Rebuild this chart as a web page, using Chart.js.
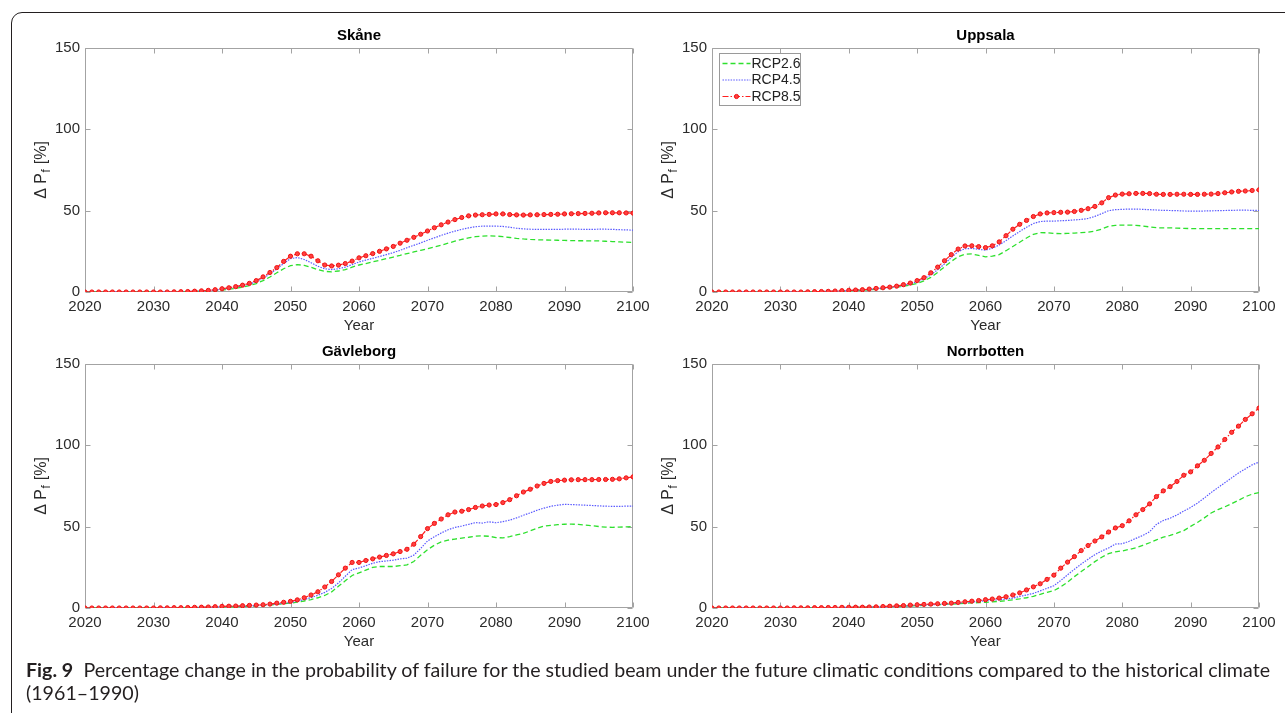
<!DOCTYPE html>
<html lang="en">
<head>
<meta charset="UTF-8">
<title>Fig. 9 - Change in probability of failure</title>
<script src="https://cdn.jsdelivr.net/npm/chart.js"></script>
<style>
    body {
        margin: 0;
        width: 1285px;
        height: 713px;
        overflow: hidden;
        position: relative;
        background: #fff;
        font-family: Arial, "Liberation Sans", sans-serif;
    }
    .frame {
        position: absolute;
        left: 11px;
        top: 12px;
        width: 1400px;
        height: 800px;
        border: 1.5px solid #231f20;
        border-top-left-radius: 11px;
    }
    .panel { position: absolute; }
    .caption {
        position: absolute;
        left: 26px;
        top: 658px;
        font-family: Lato, "Open Sans", sans-serif;
        font-size: 19px;
        line-height: 23px;
        color: #231f20;
        white-space: nowrap;
        transform-origin: 0 0;
    }
    .caption b { font-weight: 700; margin-right: 5px; }
</style>
</head>
<body>
<div class="frame"></div>
<canvas id="skane" class="panel"></canvas>
<canvas id="uppsala" class="panel"></canvas>
<canvas id="gavleborg" class="panel"></canvas>
<canvas id="norrbotten" class="panel"></canvas>
<div class="caption" id="caption">
    <span id="capLine1"><b>Fig. 9</b> Percentage change in the probability of failure for the studied beam under the future climatic conditions compared to the historical climate</span><br>
    <span>(1961–1990)</span>
</div>

<script>
    // yearly values 2020..2100, change in probability of failure [%]
    const firstYear = 2020;
    const xTicks = [2020, 2030, 2040, 2050, 2060, 2070, 2080, 2090, 2100];
    const yTicks = [0, 50, 100, 150];
    const seriesLabels = ['RCP2.6', 'RCP4.5', 'RCP8.5'];

    const skaneRcp26 = [
        0, 0, 0, 0, 0, 0, 0, 0, 0, 0,
        0, 0, 0, 0, 0.1, 0.2, 0.3, 0.4, 0.6, 0.9,
        1.2, 1.7, 2.3, 3.0, 3.9, 5.2, 7.0, 9.2, 11.8, 14.3,
        16.2, 16.8, 16.4, 15.2, 13.7, 12.7, 12.4, 12.9, 13.8, 15.3,
        16.6, 17.5, 18.5, 19.5, 20.5, 21.5, 22.5, 23.6, 24.6, 25.6,
        26.6, 27.7, 28.8, 30.0, 31.2, 32.3, 33.3, 34.0, 34.4, 34.5,
        34.4, 34.0, 33.5, 33.0, 32.6, 32.3, 32.1, 32.0, 31.9, 31.8,
        31.7, 31.6, 31.5, 31.5, 31.4, 31.4, 31.2, 31.0, 30.8, 30.6,
        30.5
    ];
    const skaneRcp45 = [
        0, 0, 0, 0, 0, 0, 0, 0, 0, 0,
        0, 0, 0, 0.1, 0.2, 0.3, 0.4, 0.6, 0.9, 1.2,
        1.7, 2.3, 3.0, 3.8, 4.8, 6.3, 8.5, 11.2, 14.2, 17.5,
        20.5, 21.2, 20.0, 18.0, 15.8, 14.3, 13.8, 14.3, 15.3, 16.8,
        18.5, 19.6, 20.7, 21.8, 23.0, 24.2, 25.6, 27.2, 28.7, 30.2,
        31.8, 33.3, 34.8, 36.2, 37.4, 38.5, 39.4, 40.1, 40.5, 40.5,
        40.5, 40.3, 39.8, 39.2, 38.8, 38.6, 38.5, 38.5, 38.5, 38.5,
        38.6, 38.6, 38.6, 38.5, 38.5, 38.6, 38.6, 38.5, 38.3, 38.2,
        38.0
    ];
    const skaneRcp85 = [
        0, 0, 0, 0, 0, 0, 0, 0, 0, 0,
        0, 0, 0, 0.1, 0.2, 0.3, 0.5, 0.7, 1.0, 1.4,
        2.0, 2.6, 3.3, 4.2, 5.3, 7.0, 9.3, 12.0, 15.0, 18.8,
        22.0, 23.5, 23.5, 22.0, 19.2, 16.6, 16.0, 16.5, 17.5, 19.0,
        21.0, 22.3, 23.6, 25.0, 26.5, 28.0, 30.0, 31.8, 33.6, 35.5,
        37.5, 39.5, 41.3, 43.0, 44.5, 45.8, 46.8, 47.3, 47.5, 47.7,
        48.0, 48.0, 47.6, 47.4, 47.3, 47.4, 47.5, 47.6, 47.7, 47.8,
        48.0, 48.1, 48.2, 48.3, 48.4, 48.6, 48.7, 48.7, 48.7, 48.6,
        48.5
    ];

    const uppsalaRcp26 = [
        0, 0, 0, 0, 0, 0, 0, 0, 0, 0,
        0, 0, 0, 0, 0, 0.1, 0.2, 0.3, 0.4, 0.5,
        0.7, 0.9, 1.1, 1.4, 1.7, 2.1, 2.5, 3.0, 3.6, 4.3,
        5.2, 6.8, 9.0, 12.0, 15.5, 18.8, 21.7, 23.2, 23.4, 22.5,
        21.6, 22.0, 23.0, 25.4, 28.0, 30.6, 33.2, 35.5, 36.5, 36.4,
        36.0, 35.9, 36.0, 36.2, 36.5, 36.8, 37.5, 38.7, 40.4, 41.0,
        41.1, 41.1, 41.0, 40.6, 40.0, 39.5, 39.4, 39.4, 39.3, 39.1,
        39.0, 39.0, 39.0, 39.0, 39.0, 39.0, 39.0, 39.0, 39.0, 39.0,
        38.9
    ];
    const uppsalaRcp45 = [
        0, 0, 0, 0, 0, 0, 0, 0, 0, 0,
        0, 0, 0, 0, 0.1, 0.2, 0.3, 0.4, 0.5, 0.7,
        0.9, 1.1, 1.3, 1.6, 2.0, 2.4, 2.8, 3.3, 4.0, 5.0,
        6.3, 8.0, 10.5, 13.7, 17.3, 21.2, 24.8, 26.6, 26.8, 26.3,
        25.7, 26.9, 28.9, 31.6, 34.5, 37.2, 39.8, 42.1, 43.3, 43.6,
        43.6, 43.8, 44.0, 44.3, 44.6, 45.2, 46.5, 48.2, 50.0, 50.6,
        50.8, 51.0, 51.0, 50.8, 50.6, 50.4, 50.2, 50.1, 50.0, 49.8,
        49.7, 49.7, 49.8, 49.9, 50.0, 50.1, 50.2, 50.3, 50.3, 50.2,
        50.1
    ];
    const uppsalaRcp85 = [
        0, 0, 0, 0, 0, 0, 0, 0, 0, 0,
        0, 0, 0, 0, 0.1, 0.2, 0.3, 0.4, 0.6, 0.8,
        1.0, 1.2, 1.4, 1.8, 2.2, 2.6, 3.0, 3.6, 4.5, 5.5,
        7.0, 8.8, 11.8, 15.3, 19.2, 23.0, 26.4, 28.3, 28.4, 27.9,
        27.3, 28.4, 30.8, 34.6, 38.6, 41.6, 44.0, 46.4, 48.0, 48.6,
        48.8, 49.0, 49.1, 49.5, 50.2, 51.2, 52.6, 54.8, 58.0, 59.6,
        60.2, 60.4, 60.6, 60.6, 60.5, 60.1, 60.0, 60.0, 60.1, 60.1,
        60.0, 60.0, 60.1, 60.2, 60.5, 61.0, 61.5, 61.9, 62.1, 62.4,
        62.8
    ];

    const gavleborgRcp26 = [
        0, 0, 0, 0, 0, 0, 0, 0, 0, 0,
        0, 0, 0, 0.1, 0.1, 0.2, 0.2, 0.3, 0.4, 0.5,
        0.6, 0.7, 0.8, 0.9, 1.1, 1.3, 1.5, 1.8, 2.2, 2.6,
        3.0, 3.6, 4.3, 5.2, 6.3, 7.7, 9.9, 13.3, 16.7, 20.0,
        21.6, 23.3, 25.0, 25.5, 25.5, 25.5, 26.0, 26.5, 28.6, 32.4,
        35.8, 38.6, 40.7, 41.7, 42.4, 43.0, 43.5, 44.2, 44.3, 44.1,
        43.3, 43.1, 43.9, 44.9, 45.9, 47.4, 49.0, 50.3, 50.8, 51.2,
        51.5, 51.6, 51.4, 51.0, 50.6, 50.1, 49.7, 49.6, 49.7, 49.9,
        50.0
    ];
    const gavleborgRcp45 = [
        0, 0, 0, 0, 0, 0, 0, 0, 0, 0,
        0, 0, 0.1, 0.1, 0.2, 0.2, 0.3, 0.4, 0.5, 0.6,
        0.8, 0.9, 1.0, 1.1, 1.3, 1.5, 1.8, 2.1, 2.5, 2.9,
        3.4, 4.2, 5.2, 6.4, 7.8, 9.6, 12.0, 15.4, 19.5, 23.6,
        24.6, 26.0, 27.5, 28.5, 28.9, 29.4, 30.2, 30.6, 32.5, 36.6,
        41.2, 43.8, 46.1, 48.1, 49.5, 50.4, 51.4, 52.5, 52.2, 53.0,
        52.4, 53.1, 54.0, 55.4, 57.0, 58.5, 60.1, 61.4, 62.5, 63.2,
        63.7, 63.6, 63.4, 63.2, 63.0, 62.8, 62.6, 62.5, 62.5, 62.6,
        62.6
    ];
    const gavleborgRcp85 = [
        0, 0, 0, 0, 0, 0, 0, 0, 0, 0,
        0, 0.1, 0.1, 0.2, 0.2, 0.3, 0.4, 0.5, 0.6, 0.8,
        1.0, 1.1, 1.2, 1.4, 1.6, 1.8, 2.0, 2.4, 3.0, 3.5,
        4.1, 5.0, 6.3, 8.0, 10.0, 12.9, 16.3, 20.4, 24.5, 28.0,
        28.0, 29.2, 30.2, 31.3, 32.3, 33.3, 34.7, 36.1, 39.2, 43.9,
        48.8, 52.0, 54.7, 57.3, 59.0, 59.5, 60.5, 61.8, 62.7, 63.3,
        63.6, 64.8, 66.6, 69.0, 71.3, 73.0, 75.0, 76.6, 77.8, 78.3,
        78.6, 78.8, 78.9, 78.9, 78.9, 79.0, 79.0, 79.1, 79.4, 80.0,
        80.6
    ];

    const norrbottenRcp26 = [
        0, 0, 0, 0, 0, 0, 0, 0, 0, 0,
        0, 0, 0, 0, 0.1, 0.1, 0.1, 0.2, 0.2, 0.3,
        0.3, 0.4, 0.4, 0.5, 0.5, 0.6, 0.7, 0.9, 1.1, 1.3,
        1.5, 1.6, 1.8, 2.0, 2.2, 2.4, 2.6, 2.9, 3.1, 3.3,
        3.5, 3.8, 4.1, 4.5, 5.0, 5.6, 6.3, 7.2, 8.4, 9.6,
        10.7, 13.0, 15.9, 19.3, 22.4, 25.4, 28.5, 31.2, 33.4, 34.5,
        35.1, 36.0, 37.0, 38.5, 40.1, 41.9, 43.5, 44.6, 46.0, 47.6,
        50.2, 52.6, 55.4, 58.4, 60.5, 62.2, 64.1, 66.2, 68.4, 70.0,
        71.0
    ];
    const norrbottenRcp45 = [
        0, 0, 0, 0, 0, 0, 0, 0, 0, 0,
        0, 0, 0, 0.1, 0.1, 0.1, 0.2, 0.2, 0.3, 0.3,
        0.4, 0.4, 0.5, 0.5, 0.6, 0.7, 0.8, 1.0, 1.2, 1.4,
        1.6, 1.8, 2.0, 2.2, 2.4, 2.7, 3.0, 3.3, 3.7, 4.1,
        4.5, 4.8, 5.1, 5.5, 6.1, 7.1, 8.0, 9.0, 10.5, 12.1,
        13.7, 16.9, 20.4, 23.8, 27.0, 30.0, 32.8, 35.0, 36.9, 39.3,
        39.5, 41.0, 42.8, 44.6, 46.9, 51.4, 53.8, 55.2, 57.2, 59.6,
        61.8, 64.5, 67.6, 71.0, 74.0, 77.0, 80.0, 83.0, 85.5, 88.0,
        89.7
    ];
    const norrbottenRcp85 = [
        0, 0, 0, 0, 0, 0, 0, 0, 0, 0,
        0, 0, 0.1, 0.1, 0.1, 0.2, 0.2, 0.3, 0.3, 0.4,
        0.4, 0.5, 0.5, 0.6, 0.7, 0.9, 1.1, 1.3, 1.5, 1.8,
        2.0, 2.2, 2.4, 2.6, 2.8, 3.0, 3.4, 3.8, 4.2, 4.6,
        5.1, 5.5, 6.1, 6.9, 8.0, 9.3, 11.1, 13.0, 14.9, 17.6,
        20.2, 24.5, 28.2, 31.6, 35.3, 38.4, 41.2, 43.7, 46.7, 49.2,
        50.6, 53.6, 57.3, 60.5, 64.0, 68.5, 72.0, 74.6, 77.8, 81.6,
        83.7, 87.4, 90.8, 95.0, 99.0, 103.6, 108.0, 111.8, 115.9, 119.4,
        122.9
    ];

    // panel placement: plot-area edges in page pixels
    const panels = [
        { id: 'skane', title: 'Skåne', left: 85, top: 48, right: 633, bottom: 292, legend: false,
          series: [skaneRcp26, skaneRcp45, skaneRcp85] },
        { id: 'uppsala', title: 'Uppsala', left: 712, top: 48, right: 1259, bottom: 292, legend: true,
          series: [uppsalaRcp26, uppsalaRcp45, uppsalaRcp85] },
        { id: 'gavleborg', title: 'Gävleborg', left: 85, top: 364, right: 633, bottom: 608, legend: false,
          series: [gavleborgRcp26, gavleborgRcp45, gavleborgRcp85] },
        { id: 'norrbotten', title: 'Norrbotten', left: 712, top: 364, right: 1259, bottom: 608, legend: false,
          series: [norrbottenRcp26, norrbottenRcp45, norrbottenRcp85] }
    ];

    // room around the plot area inside each canvas
    const padLeft = 80, padTop = 40, padRight = 40, padBottom = 60;

    const axisGray = '#a3a3a3';
    const tickText = '#2b2b2b';

    // MATLAB-like line specs: '--' green, ':' blue, '-.o' red
    const lineStyles = [
        { borderColor: '#2ee02e', borderDash: [5, 3], borderWidth: 1.3, pointRadius: 0, order: 2 },
        { borderColor: '#5a5aff', borderDash: [1.5, 1.2], borderWidth: 1.2, pointRadius: 0, order: 1 },
        { borderColor: '#ff2020', borderDash: [6, 2, 1.5, 2], borderWidth: 1.2, pointRadius: 2.1,
          pointBorderWidth: 1, pointBorderColor: '#f01010', pointBackgroundColor: '#ff4040', order: 0 }
    ];

    // box, inward tick marks, titles, axis labels and legend
    const panelDecor = {
        id: 'panelDecor',
        beforeDatasetsDraw(chart) {
            const { ctx, chartArea: a, scales: { x, y } } = chart;
            const L = Math.round(a.left) + 0.5, R = Math.round(a.right) - 0.5;
            const T = Math.round(a.top) + 0.5, B = Math.round(a.bottom) - 0.5;
            ctx.save();
            ctx.strokeStyle = axisGray;
            ctx.lineWidth = 1;
            ctx.beginPath();
            ctx.rect(L, T, R - L, B - T);
            xTicks.forEach(v => {
                const px = Math.round(x.getPixelForValue(v)) + 0.5;
                ctx.moveTo(px, B); ctx.lineTo(px, B - 5);
                ctx.moveTo(px, T); ctx.lineTo(px, T + 5);
            });
            yTicks.forEach(v => {
                const py = Math.round(y.getPixelForValue(v)) + 0.5;
                ctx.moveTo(L, py); ctx.lineTo(L + 5, py);
                ctx.moveTo(R, py); ctx.lineTo(R - 5, py);
            });
            ctx.stroke();
            ctx.restore();
        },
        afterDraw(chart, args, opts) {
            const { ctx, chartArea: a } = chart;
            const cx = (a.left + a.right) / 2;
            const cy = (a.top + a.bottom) / 2;
            ctx.save();
            ctx.fillStyle = '#000';
            ctx.textAlign = 'center';
            ctx.textBaseline = 'middle';
            ctx.font = 'bold 15px Arial';
            ctx.fillText(opts.title, cx, a.top - 12);

            ctx.fillStyle = tickText;
            ctx.font = '15px Arial';
            ctx.fillText('Year', cx, a.bottom + 34);

            // y label with subscript f
            ctx.translate(a.left - 44, cy);
            ctx.rotate(-Math.PI / 2);
            ctx.textAlign = 'left';
            ctx.textBaseline = 'alphabetic';
            const head = 'Δ P', tail = ' [%]';
            ctx.font = '16px Arial';
            const w1 = ctx.measureText(head).width, w3 = ctx.measureText(tail).width;
            ctx.font = '12px Arial';
            const w2 = ctx.measureText('f').width + 1;
            const sx = -(w1 + w2 + w3) / 2;
            ctx.font = '16px Arial';
            ctx.fillText(head, sx, 5);
            ctx.font = '12px Arial';
            ctx.fillText('f', sx + w1 + 0.5, 9);
            ctx.font = '16px Arial';
            ctx.fillText(tail, sx + w1 + w2, 5);
            ctx.restore();

            if (opts.legend) drawLegend(chart);
        }
    };

    function drawLegend(chart) {
        const { ctx, chartArea: a } = chart;
        const bx = Math.round(a.left) + 7.5, by = Math.round(a.top) + 5.5;
        const bw = 81, bh = 52;
        ctx.save();
        ctx.fillStyle = '#fff';
        ctx.strokeStyle = '#9a9a9a';
        ctx.lineWidth = 1;
        ctx.fillRect(bx, by, bw, bh);
        ctx.strokeRect(bx, by, bw, bh);
        ctx.font = '14px Arial';
        ctx.textBaseline = 'middle';
        chart.data.datasets.forEach((ds, i) => {
            const ry = by + 10 + i * 16.5;
            ctx.strokeStyle = ds.borderColor;
            ctx.lineWidth = ds.borderWidth;
            ctx.setLineDash(ds.borderDash);
            ctx.beginPath();
            ctx.moveTo(bx + 3, ry);
            ctx.lineTo(bx + 31, ry);
            ctx.stroke();
            ctx.setLineDash([]);
            if (ds.pointRadius > 0) {
                ctx.beginPath();
                ctx.arc(bx + 17, ry, ds.pointRadius, 0, Math.PI * 2);
                ctx.fillStyle = ds.pointBackgroundColor;
                ctx.fill();
                ctx.strokeStyle = ds.pointBorderColor;
                ctx.lineWidth = ds.pointBorderWidth;
                ctx.stroke();
            }
            ctx.fillStyle = '#222';
            ctx.fillText(ds.label, bx + 32, ry + 0.5);
        });
        ctx.restore();
    }

    panels.forEach(p => {
        const canvas = document.getElementById(p.id);
        const w = p.right - p.left + padLeft + padRight;
        const h = p.bottom - p.top + padTop + padBottom;
        canvas.width = w;
        canvas.height = h;
        canvas.style.left = (p.left - padLeft) + 'px';
        canvas.style.top = (p.top - padTop) + 'px';

        const datasets = p.series.map((values, i) => Object.assign({
            label: seriesLabels[i],
            data: values.map((v, k) => ({ x: firstYear + k, y: v })),
            fill: false,
            tension: 0
        }, lineStyles[i]));

        new Chart(canvas.getContext('2d'), {
            type: 'line',
            data: { datasets },
            options: {
                responsive: false,
                animation: false,
                devicePixelRatio: 1,
                layout: { padding: { left: 0, top: padTop, right: padRight, bottom: 0 } },
                plugins: {
                    legend: { display: false },
                    tooltip: { enabled: false },
                    panelDecor: { title: p.title, legend: p.legend }
                },
                scales: {
                    x: {
                        type: 'linear',
                        min: 2020,
                        max: 2100,
                        afterBuildTicks: s => { s.ticks = xTicks.map(v => ({ value: v })); },
                        afterFit: s => { s.height = padBottom; s.paddingLeft = 0; s.paddingRight = 0; },
                        grid: { display: false, drawTicks: false, tickLength: 0 },
                        border: { display: false },
                        ticks: {
                            color: tickText,
                            font: { family: 'Arial', size: 15 },
                            padding: 6,
                            maxRotation: 0,
                            autoSkip: false,
                            callback: v => String(v)
                        }
                    },
                    y: {
                        min: 0,
                        max: 150,
                        afterBuildTicks: s => { s.ticks = yTicks.map(v => ({ value: v })); },
                        afterFit: s => { s.width = padLeft; s.paddingTop = 0; s.paddingBottom = 0; },
                        grid: { display: false, drawTicks: false, tickLength: 0 },
                        border: { display: false },
                        ticks: { color: tickText, font: { family: 'Arial', size: 15 }, padding: 5 }
                    }
                }
            },
            plugins: [panelDecor]
        });
    });

    // stretch the caption to the column width
    const cap = document.getElementById('caption');
    const line1 = document.getElementById('capLine1');
    const capWidth = line1.getBoundingClientRect().width;
    cap.style.transform = 'scaleX(' + (1244 / capWidth) + ')';
</script>
</body>
</html>
